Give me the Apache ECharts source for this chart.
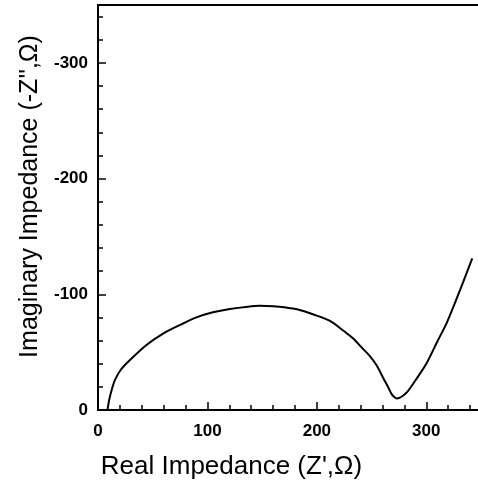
<!DOCTYPE html>
<html>
<head>
<meta charset="utf-8">
<script src="https://cdn.jsdelivr.net/npm/echarts@6/dist/echarts.min.js"></script>
<style>
html,body{margin:0;padding:0;background:#fff;}
#chart{width:478px;height:483px;}
</style>
</head>
<body>
<div id="chart"></div>
<script>
const realZ = [8.6, 10.5, 13, 15.5, 21, 29, 44, 59.5, 75, 90, 105, 120.5, 137, 148, 160, 172, 182, 197, 212, 225, 233, 241, 249, 255, 261, 265, 268.5, 271, 273, 275.5, 279, 283, 290, 300, 310, 319, 331, 342];
const imagZ = [0, 10, 19, 26, 35, 43, 56, 66, 73.5, 80, 84.4, 87.3, 89.3, 90, 89.6, 88.5, 87, 82.5, 77, 68, 62, 54, 46, 38, 27, 20, 13.5, 11, 10, 10.5, 12.5, 16, 25.5, 40, 59, 76, 104, 131];
const xTicks = [0, 100, 200, 300];
const yTicks = [0, 100, 200, 300];

const points = realZ.map((x, i) => [x, imagZ[i]]);
const chart = echarts.init(document.getElementById('chart'));
const font = 'Liberation Sans, Arial, sans-serif';
chart.setOption({
  animation: false,
  backgroundColor: '#fff',
  grid: {left: 98, width: 383, top: 5, height: 405, outerBoundsMode: 'none', containLabel: false,
    show: true, borderColor: '#000', borderWidth: 2, backgroundColor: 'transparent'},
  xAxis: {
    type: 'value', min: 0, max: 350, interval: 100,
    name: "Real Impedance (Z',\u03A9)", nameLocation: 'middle', nameGap: 44,
    nameTextStyle: {fontFamily: font, fontSize: 26, color: '#000', padding: [0, 116, 0, 0]},
    axisLine: {show: true, onZero: false, lineStyle: {color: '#000', width: 2}},
    axisTick: {show: true, inside: true, length: 8, lineStyle: {color: '#000', width: 1.5}},
    minorTick: {show: true, splitNumber: 5, length: 5, lineStyle: {color: '#000', width: 1.5}},
    axisLabel: {margin: 13, fontFamily: font, fontWeight: 'bold', fontSize: 17, color: '#000',
      formatter: v => xTicks.includes(v) ? String(v) : ''},
    splitLine: {show: false}
  },
  yAxis: {
    type: 'value', min: 0, max: 350, interval: 100,
    name: "Imaginary Impedance (-Z'',\u03A9)", nameLocation: 'middle', nameGap: 54,
    nameTextStyle: {fontFamily: font, fontSize: 25, color: '#000', padding: [0, 0, 0, 22]},
    axisLine: {show: true, lineStyle: {color: '#000', width: 2}},
    axisTick: {show: true, inside: true, length: 8, lineStyle: {color: '#000', width: 1.5}},
    minorTick: {show: true, splitNumber: 5, length: 5, lineStyle: {color: '#000', width: 1.5}},
    axisLabel: {margin: 10, fontFamily: font, fontWeight: 'bold', fontSize: 17, color: '#000',
      formatter: v => yTicks.includes(v) ? (v === 0 ? '0' : '-' + v) : ''},
    splitLine: {show: false}
  },
  series: [{
    type: 'line', data: points, smooth: 0.3, showSymbol: false,
    lineStyle: {color: '#000', width: 2}
  }]
});
</script>
</body>
</html>
